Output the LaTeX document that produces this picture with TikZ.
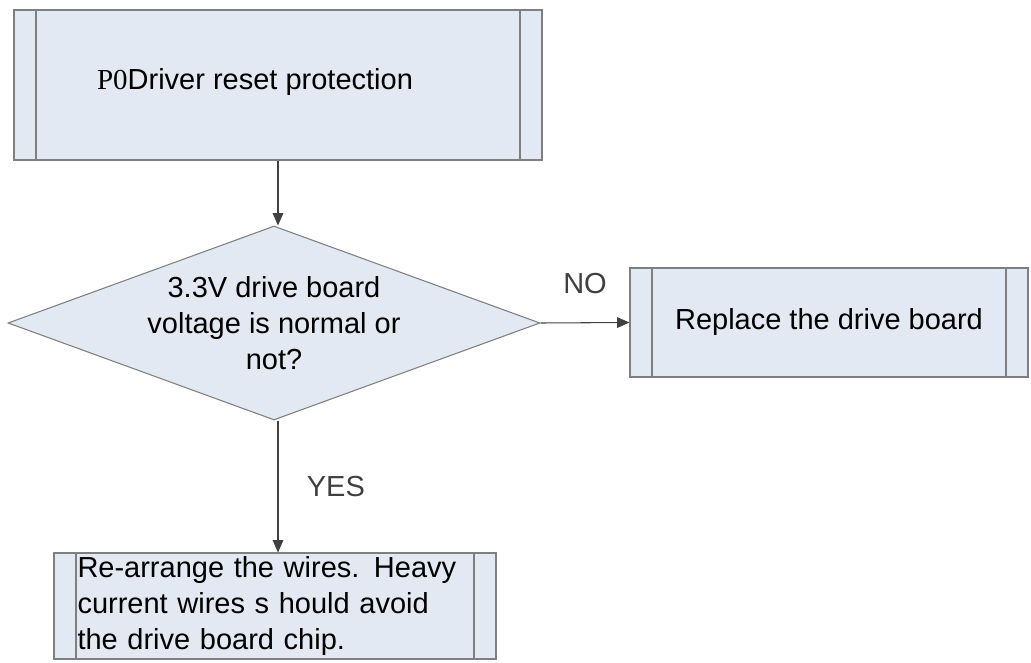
\documentclass[tikz,border=0pt]{standalone}
\usepackage{fontspec}
\setmainfont{Liberation Sans}
\newfontfamily\pzfont{Liberation Serif}
\usetikzlibrary{shapes.geometric,positioning,arrows.meta}
\definecolor{boxfill}{HTML}{E3E9F2}
\definecolor{boxline}{HTML}{7F7F7F}
\tikzset{
  process/.style={draw=boxline, fill=boxfill, line width=0.6pt, inner sep=0pt,
    font=\fontsize{16.5}{20.5}\selectfont,
    path picture={
      \draw[boxline, line width=0.6pt]
        ([xshift=0.44cm]path picture bounding box.north west) -- ([xshift=0.44cm]path picture bounding box.south west)
        ([xshift=-0.44cm]path picture bounding box.north east) -- ([xshift=-0.44cm]path picture bounding box.south east);
    }},
  decision/.style={draw=boxline, fill=boxfill, line width=0.6pt, diamond, inner sep=0pt,
    aspect=2.74, minimum width=10.64cm, minimum height=3.88cm, align=center,
    font=\fontsize{16.5}{20.5}\selectfont},
  flow/.style={-{Triangle[length=7pt,width=6pt]}, line width=0.6pt, black!75}
}
\begin{document}
\begin{tikzpicture}
    \useasboundingbox (0,0) rectangle (20.62,13.24);
    
    % boxes
    \node[process, minimum width=10.56cm, minimum height=3.0cm] (reset) at (5.56,11.54) {};
    \node[font=\fontsize{16.5}{20.5}\selectfont] at (5.1,11.6) {{\pzfont P0}Driver reset protection};
    \node[decision] (volt) at (5.48,6.78) {3.3V drive board\\voltage is normal or\\not?};
    \node[process, minimum width=7.96cm, minimum height=2.18cm] (board) at (16.58,6.79) {Replace the drive board};
    \node[process, minimum width=8.84cm, minimum height=2.12cm, text width=7.9cm, align=left] (wires) at (5.5,1.12)
        {Re-arrange the wires. Heavy\\current wires s hould avoid\\the drive board chip.};
    
    % connectors
    \draw[flow] (reset.south) -- (reset.south |- volt.north);
    \draw[flow] (volt.east) -- node[above=0.45cm, font=\fontsize{16.5}{20}\selectfont] {NO} (board.west);
    \draw[flow] (reset.south |- volt.south) -- node[right=0.45cm, font=\fontsize{16.5}{20}\selectfont] {YES} (reset.south |- wires.north);
\end{tikzpicture}
\end{document}
